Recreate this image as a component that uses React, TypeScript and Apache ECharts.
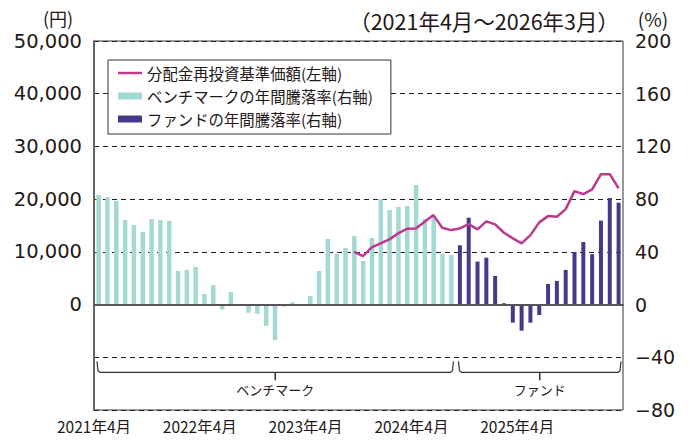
import React, { useEffect, useRef } from "react";
import * as echarts from "echarts";

// Monthly categories: 2021年4月 … 2026年3月 (60 months)
const months: string[] = [];
for (let i = 0; i < 60; i++) {
  const y = 2021 + Math.floor((i + 3) / 12);
  const m = ((i + 3) % 12) + 1;
  months.push(`${y}年${m}月`);
}

const xTickLabels = ["2021年4月", "2022年4月", "2023年4月", "2024年4月", "2025年4月"];

// Benchmark annual return (%), 2021/4 – 2024/8
const benchmarkReturn: number[] = [
  83.2, 81.6, 78.6, 64.2, 60.4, 55.1, 64.9, 64.2, 63.4, 25.5,
  26.3, 28.5, 8.0, 14.9, -3.8, 9.6, 0.2, -6.1, -7.0, -16.0,
  -26.9, -1.6, 1.7, 0.3, 6.5, 25.5, 49.8, 38.4, 42.9, 52.0,
  33.1, 50.5, 79.9, 71.8, 74.1, 74.8, 90.7, 64.9, 66.7, 38.4,
  37.6,
];

// Fund annual return (%), 2024/9 – 2026/3
const fundReturn: number[] = [
  45.0, 65.9, 32.6, 35.6, 21.7, 1.0, -13.7, -19.8, -13.7, -7.9,
  15.6, 17.9, 26.3, 39.9, 47.5, 38.2, 63.7, 80.9, 77.3,
];

// Fund NAV with dividends reinvested (円), 2023/9 – 2026/3
const navReinvested: number[] = [
  10000, 9200, 10850, 11600, 12370, 13500, 14380, 14450, 15700, 16970,
  14570, 14130, 14450, 15270, 14260, 15780, 15210, 13620, 12560, 11610,
  13180, 15590, 16780, 16650, 18110, 21520, 20950, 21840, 24740, 24740,
  22030,
];

const leftTicks = [0, 10000, 20000, 30000, 40000, 50000];

const NUM_FONT = "'DejaVu Sans', 'Noto Sans CJK JP', sans-serif";
const JP_FONT = "'Noto Sans CJK JP', sans-serif";
const TEXT = "#231815";

export default function App() {
  const ref = useRef<HTMLDivElement>(null);

  useEffect(() => {
    if (!ref.current) return;
    const chart = echarts.init(ref.current, undefined, { renderer: "svg" });

    const benchData = months.map((_, i) => (i < benchmarkReturn.length ? benchmarkReturn[i] : null));
    const fundStart = months.length - fundReturn.length;
    const fundData = months.map((_, i) => (i >= fundStart ? fundReturn[i - fundStart] : null));
    const navStart = months.length - navReinvested.length;
    const navData = months.map((_, i) => (i >= navStart ? navReinvested[i - navStart] : null));

    const option: any = {
      animation: false,
      grid: {
        left: 94,
        right: 67,
        top: 41,
        bottom: 32,
        show: true,
        borderColor: "#333",
        borderWidth: 1,
        backgroundColor: "transparent",
      },
      legend: {
        orient: "vertical",
        left: 108,
        top: 60,
        padding: [5, 18, 7, 10],
        borderColor: "#333",
        borderWidth: 1,
        backgroundColor: "#fff",
        itemGap: 7,
        itemWidth: 24,
        itemHeight: 7,
        symbolKeepAspect: true,
        textStyle: { fontSize: 15.4, fontFamily: JP_FONT, color: TEXT, lineHeight: 16 },
        data: [
          { name: "分配金再投資基準価額(左軸)", icon: "path://M0,0H24V2.4H0Z" },
          { name: "ベンチマークの年間騰落率(右軸)", icon: "rect" },
          { name: "ファンドの年間騰落率(右軸)", icon: "rect" },
        ],
      },
      xAxis: [
        {
          type: "category",
          data: months,
          position: "bottom",
          boundaryGap: true,
          axisLine: { show: true, onZero: true, lineStyle: { color: "#555", width: 2 } },
          axisTick: { show: false },
          axisLabel: { show: false },
          splitLine: { show: false },
          z: 5,
        },
        {
          type: "value",
          min: 0,
          max: 60,
          interval: 12,
          position: "bottom",
          axisLine: { show: false, onZero: false },
          axisTick: { show: false },
          splitLine: { show: false },
          axisLabel: {
            show: true,
            margin: 8,
            fontSize: 15.5,
            fontFamily: JP_FONT,
            color: TEXT,
            showMaxLabel: true,
            formatter: (v: number) => xTickLabels[Math.round(v / 12)] ?? "",
          },
        },
      ],
      yAxis: [
        {
          type: "value",
          position: "left",
          min: -20000,
          max: 50000,
          interval: 10000,
          axisLine: { show: true, lineStyle: { color: "#666", width: 2 } },
          axisTick: { show: false },
          axisLabel: {
            margin: 12,
            fontSize: 19.5,
            fontFamily: NUM_FONT,
            color: TEXT,
            formatter: (v: number) =>
              leftTicks.includes(v) ? v.toLocaleString("en-US") : "",
          },
          splitLine: {
            show: true,
            lineStyle: { color: "#222", type: [5, 4], width: 1.2 },
          },
        },
        {
          type: "value",
          position: "right",
          min: -80,
          max: 200,
          interval: 40,
          axisLine: { show: false },
          axisTick: { show: false },
          splitLine: { show: false },
          axisLabel: {
            margin: 12,
            fontSize: 19,
            fontFamily: NUM_FONT,
            color: TEXT,
            formatter: (v: number) => (v < 0 ? "\u2212" + Math.abs(v) : String(v)),
          },
        },
      ],
      series: [
        {
          name: "ベンチマークの年間騰落率(右軸)",
          type: "bar",
          xAxisIndex: 0,
          yAxisIndex: 1,
          data: benchData,
          barWidth: 4.5,
          barGap: "-100%",
          itemStyle: { color: "#a4d8d3" },
          z: 2,
        },
        {
          name: "ファンドの年間騰落率(右軸)",
          type: "bar",
          xAxisIndex: 0,
          yAxisIndex: 1,
          data: fundData,
          barWidth: 4,
          barGap: "-100%",
          itemStyle: { color: "#45398a" },
          z: 2,
        },
        {
          name: "分配金再投資基準価額(左軸)",
          type: "line",
          xAxisIndex: 0,
          yAxisIndex: 0,
          data: navData,
          symbol: "none",
          showSymbol: false,
          connectNulls: false,
          lineStyle: { color: "#c0378e", width: 2.5 },
          itemStyle: { color: "#c0378e" },
          z: 6,
        },
      ],
    };

    chart.setOption(option);

    // Annotations positioned from the axes
    const xb = (v: number) => chart.convertToPixel({ xAxisIndex: 1 }, v) as number;
    const yr = (v: number) => chart.convertToPixel({ yAxisIndex: 1 }, v) as number;
    const yl = (v: number) => chart.convertToPixel({ yAxisIndex: 0 }, v) as number;
    const yM40 = yr(-40);
    const hookTop = yM40 + 4;
    const hBar = yM40 + 15;
    const tickEnd = yM40 + 23;
    const textY = yM40 + 32;
    const split = benchmarkReturn.length;

    const bracket = (x0: number, x1: number, label: string, key: string) => {
      const mid = (x0 + x1) / 2;
      return [
        {
          type: "polyline",
          id: key + "b",
          shape: {
            points: [
              [x0, hookTop],
              [x0 + 1, hBar - 1.5],
              [x0 + 3, hBar],
              [x1 - 3, hBar],
              [x1 - 1, hBar - 1.5],
              [x1, hookTop],
            ],
          },
          style: { stroke: "#333", lineWidth: 1.2, fill: null },
          silent: true,
        },
        {
          type: "line",
          id: key + "t",
          shape: { x1: mid, y1: hBar, x2: mid, y2: tickEnd },
          style: { stroke: "#333", lineWidth: 1.5 },
          silent: true,
        },
        {
          type: "text",
          id: key + "l",
          x: mid,
          y: textY,
          style: {
            text: label,
            fontSize: 13,
            fontFamily: JP_FONT,
            fill: TEXT,
            align: "center",
            verticalAlign: "middle",
          },
          silent: true,
        },
      ];
    };

    const xLeft = xb(0);
    const xSplit = xb(split);
    const xRight = xb(60);
    const yTop = yl(50000);

    chart.setOption({
      graphic: [
        ...bracket(xLeft + 3, xSplit - 2, "ベンチマーク", "bm"),
        ...bracket(xSplit + 3, xRight - 2, "ファンド", "fd"),
        {
          type: "text",
          x: xLeft - 36,
          y: yTop - 23,
          style: { text: "(円)", fontSize: 18, fontFamily: JP_FONT, fill: TEXT, align: "center", verticalAlign: "middle" },
        },
        {
          type: "text",
          x: xRight + 30,
          y: yTop - 23,
          style: { text: "(%)", fontSize: 19, fontFamily: JP_FONT, fill: TEXT, align: "center", verticalAlign: "middle" },
        },
        {
          type: "text",
          x: xRight - 4,
          y: yTop - 21,
          style: {
            text: "（2021年4月〜2026年3月）",
            fontSize: 21.5,
            fontFamily: JP_FONT,
            fill: TEXT,
            align: "right",
            verticalAlign: "middle",
          },
        },
      ],
    });

    return () => chart.dispose();
  }, []);

  return <div ref={ref} style={{ width: 690, height: 442, margin: -8 }} />;
}
